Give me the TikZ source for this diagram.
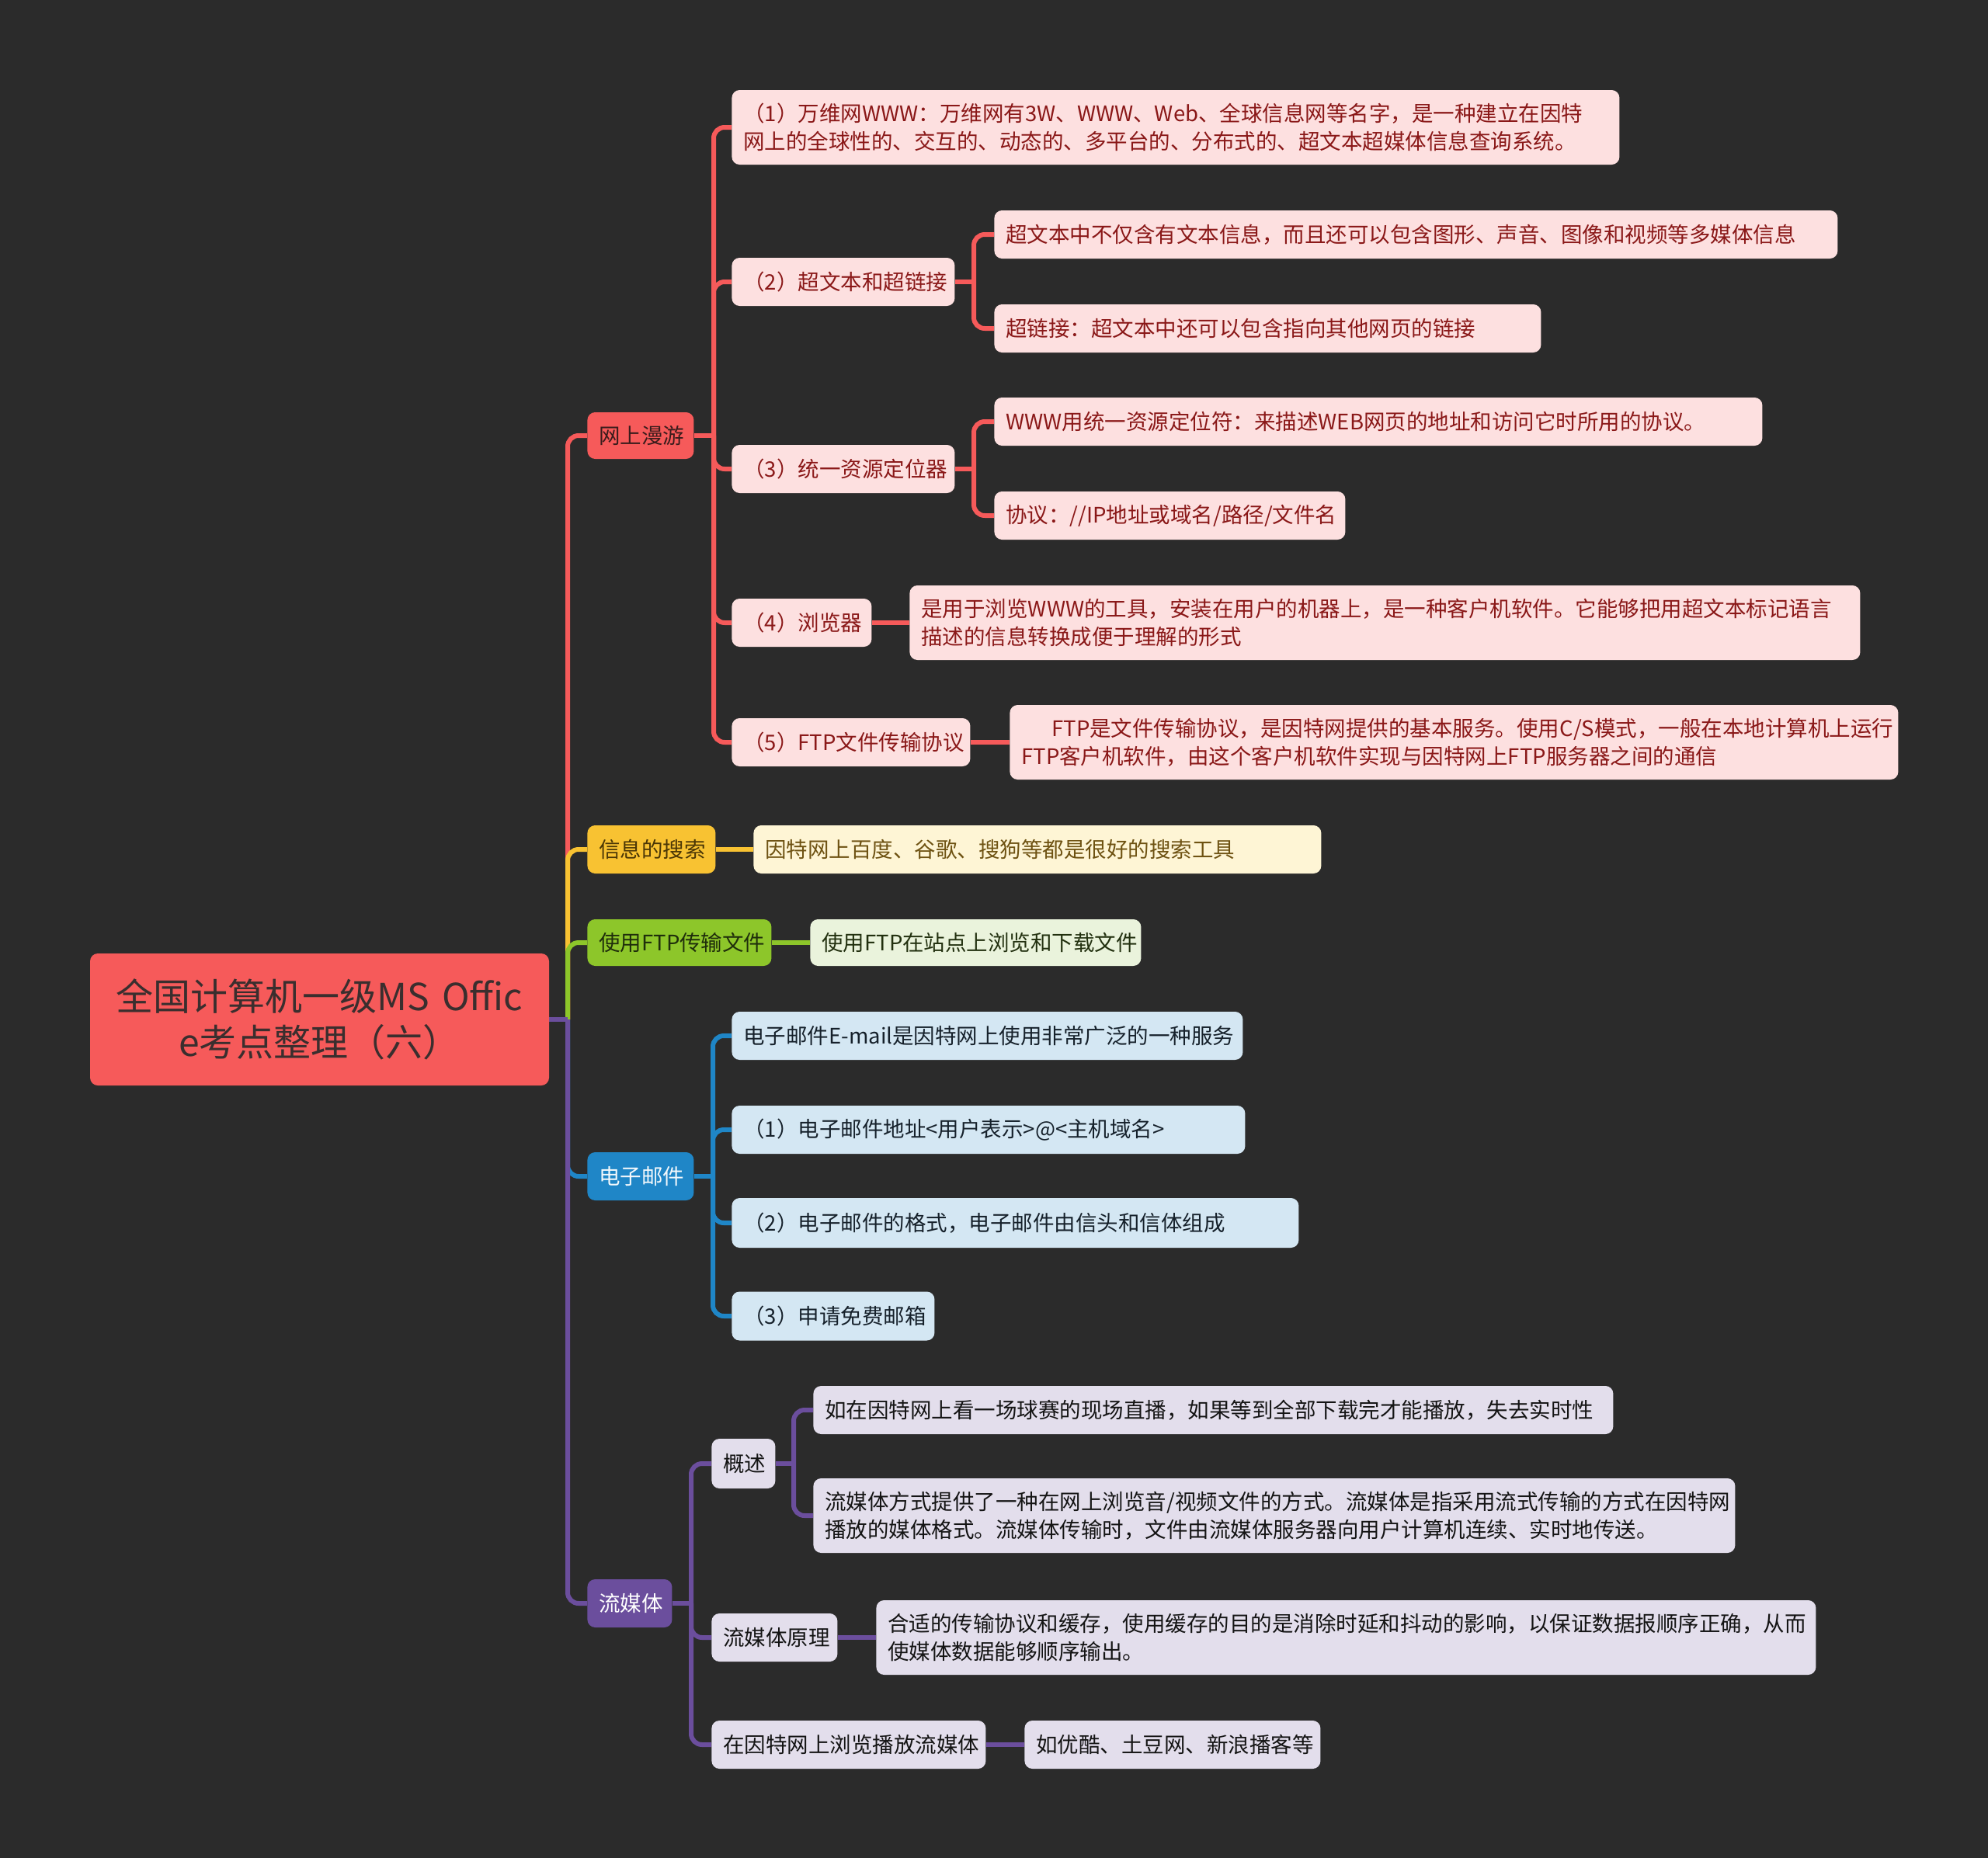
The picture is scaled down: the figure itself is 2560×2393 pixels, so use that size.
\documentclass[tikz,border=0pt]{standalone}
\usepackage{fontspec}
\setmainfont{Noto Sans CJK SC}
\definecolor{bg}{HTML}{2B2B2B}
\definecolor{cred}{HTML}{F65A5A}
\definecolor{credtxt}{HTML}{3A1C1C}
\definecolor{cpink}{HTML}{FDE0E0}
\definecolor{cpinktxt}{HTML}{8A1818}
\definecolor{cyel}{HTML}{F8C232}
\definecolor{cyeltxt}{HTML}{4A3606}
\definecolor{ccream}{HTML}{FEF5D5}
\definecolor{ccreamtxt}{HTML}{6E5212}
\definecolor{cgrn}{HTML}{8DC62A}
\definecolor{cgrntxt}{HTML}{1F2E0B}
\definecolor{clgrn}{HTML}{EAF3DC}
\definecolor{clgrntxt}{HTML}{22300F}
\definecolor{cblu}{HTML}{1F86C7}
\definecolor{cblutxt}{HTML}{F2F8FC}
\definecolor{clblu}{HTML}{D4E7F3}
\definecolor{clblutxt}{HTML}{16212B}
\definecolor{cpur}{HTML}{6B4E9D}
\definecolor{cpurtxt}{HTML}{FFFFFF}
\definecolor{clpur}{HTML}{E3DEEC}
\definecolor{clpurtxt}{HTML}{141414}
\definecolor{roottxt}{HTML}{3A2E2E}
\pgfdeclarelayer{bgl}
\pgfdeclarelayer{lines}
\pgfsetlayers{bgl,lines,main}
\tikzset{
  nbox/.style 2 args={anchor=west, rounded corners=5pt, inner xsep=7.5pt, inner ysep=0pt,
    text width={(#1-30)*0.5pt}, minimum height={#2*0.5pt}, align=left,
    font=\fontsize{13.75pt}{18pt}\selectfont},
  rootbox/.style={rounded corners=5pt, fill=cred, text=roottxt, inner sep=0pt,
    minimum width=295.5pt, minimum height=85pt, text width=290pt, align=center,
    font=\fontsize{24pt}{29.5pt}\selectfont},
  redA/.style={fill=cred, text=credtxt},
  redB/.style={fill=cpink, text=cpinktxt},
  yelA/.style={fill=cyel, text=cyeltxt},
  yelB/.style={fill=ccream, text=ccreamtxt},
  grnA/.style={fill=cgrn, text=cgrntxt},
  grnB/.style={fill=clgrn, text=clgrntxt},
  bluA/.style={fill=cblu, text=cblutxt},
  bluB/.style={fill=clblu, text=clblutxt},
  purA/.style={fill=cpur, text=cpurtxt},
  purB/.style={fill=clpur, text=clpurtxt},
  conn/.style={line width=3pt, rounded corners=7pt},
  lred/.style={conn, draw=cred},
  lyel/.style={conn, draw=cyel},
  lgrn/.style={conn, draw=cgrn},
  lblu/.style={conn, draw=cblu},
  lpur/.style={conn, draw=cpur},
}
\begin{document}
\begin{tikzpicture}[x=0.5pt,y=-0.5pt]
\begin{pgfonlayer}{bgl}
\fill[bg] (0,0) rectangle (2560,2393);
\end{pgfonlayer}
\useasboundingbox (0,0) rectangle (2560,2393);

% root
\node[rootbox] (root) at (411.5,1313) {全国计算机一级MS Offic\\e考点整理（六）};

% level 1
\node[nbox={137}{60}, redA] (n1) at (756,561) {网上漫游};
\node[nbox={165}{62}, yelA] (n2) at (756,1094) {信息的搜索};
\node[nbox={237}{60}, grnA] (n3) at (756,1214) {使用FTP传输文件};
\node[nbox={137}{62}, bluA] (n4) at (756,1515) {电子邮件};
\node[nbox={109}{62}, purA] (n5) at (756,2065) {流媒体};

% 网上漫游
\node[nbox={1143}{96}, redB] (a1) at (942,164) {（1）万维网WWW：万维网有3W、WWW、Web、全球信息网等名字，是一种建立在因特\\网上的全球性的、交互的、动态的、多平台的、分布式的、超文本超媒体信息查询系统。};
\node[nbox={287}{62}, redB] (a2) at (942,363) {（2）超文本和超链接};
\node[nbox={1086}{62}, redB] (a2a) at (1280,302) {超文本中不仅含有文本信息，而且还可以包含图形、声音、图像和视频等多媒体信息};
\node[nbox={704}{62}, redB] (a2b) at (1280,423) {超链接：超文本中还可以包含指向其他网页的链接};
\node[nbox={287}{62}, redB] (a3) at (942,604) {（3）统一资源定位器};
\node[nbox={989}{62}, redB] (a3a) at (1280,543) {WWW用统一资源定位符：来描述WEB网页的地址和访问它时所用的协议。};
\node[nbox={452}{62}, redB] (a3b) at (1280,664) {协议：//IP地址或域名/路径/文件名};
\node[nbox={180}{62}, redB] (a4) at (942,802) {（4）浏览器};
\node[nbox={1224}{96}, redB] (a4a) at (1171,802) {是用于浏览WWW的工具，安装在用户的机器上，是一种客户机软件。它能够把用超文本标记语言\\描述的信息转换成便于理解的形式};
\node[nbox={307}{62}, redB] (a5) at (942,956) {（5）FTP文件传输协议};
\node[nbox={1144}{96}, redB] (a5a) at (1300,956) {\hspace*{19.5pt}FTP是文件传输协议，是因特网提供的基本服务。使用C/S模式，一般在本地计算机上运行\\FTP客户机软件，由这个客户机软件实现与因特网上FTP服务器之间的通信};

% 信息的搜索 / FTP
\node[nbox={731}{62}, yelB] (s1) at (970,1094) {因特网上百度、谷歌、搜狗等都是很好的搜索工具};
\node[nbox={426}{60}, grnB] (f1) at (1043,1214) {使用FTP在站点上浏览和下载文件};

% 电子邮件
\node[nbox={658}{62}, bluB] (e1) at (942,1334) {电子邮件\mbox{E-mail}是因特网上使用非常广泛的一种服务};
\node[nbox={661}{62}, bluB] (e2) at (942,1455) {（1）电子邮件地址<用户表示>@<主机域名>};
\node[nbox={730}{64}, bluB] (e3) at (942,1575) {（2）电子邮件的格式，电子邮件由信头和信体组成};
\node[nbox={261}{63}, bluB] (e4) at (942,1695) {（3）申请免费邮箱};

% 流媒体
\node[nbox={82}{64}, purB] (b1) at (916,1885) {概述};
\node[nbox={1030}{62}, purB] (b1a) at (1047,1816) {如在因特网上看一场球赛的现场直播，如果等到全部下载完才能播放，失去实时性};
\node[nbox={1187}{96}, purB] (b1b) at (1047,1952) {流媒体方式提供了一种在网上浏览音/视频文件的方式。流媒体是指采用流式传输的方式在因特网\\播放的媒体格式。流媒体传输时，文件由流媒体服务器向用户计算机连续、实时地传送。};
\node[nbox={162}{62}, purB] (b2) at (916,2109) {流媒体原理};
\node[nbox={1210}{96}, purB] (b2a) at (1128,2109) {合适的传输协议和缓存，使用缓存的目的是消除时延和抖动的影响，以保证数据报顺序正确，从而\\使媒体数据能够顺序输出。};
\node[nbox={353}{62}, purB] (b3) at (916,2247) {在因特网上浏览播放流媒体};
\node[nbox={381}{62}, purB] (b3a) at (1319,2247) {如优酷、土豆网、新浪播客等};

% junctions
\coordinate (j0) at (731,1313);
\coordinate (j1) at (919,561);
\coordinate (j2) at (1254,363);
\coordinate (j3) at (1254,604);
\coordinate (j4) at (918,1515);
\coordinate (j5) at (890,2065);
\coordinate (j6) at (1022,1885);

\begin{pgfonlayer}{lines}
% level 1 connectors
\draw[lred] (j0) |- (n1.west);
\draw[lyel] (j0) |- (n2.west);
\draw[lgrn] (j0) |- (n3.west);
\draw[lblu] (j0) |- (n4.west);
\draw[lpur] (j0) |- (n5.west);
\draw[lpur, rounded corners=0pt] (root.east) -- (j0);

% 网上漫游
\draw[lred, rounded corners=0pt] (n1.east) -- (j1);
\foreach \t in {a1,a2,a3,a4,a5} { \draw[lred] (j1) |- (\t.west); }
\draw[lred, rounded corners=0pt] (a2.east) -- (j2);
\draw[lred] (j2) |- (a2a.west);
\draw[lred] (j2) |- (a2b.west);
\draw[lred, rounded corners=0pt] (a3.east) -- (j3);
\draw[lred] (j3) |- (a3a.west);
\draw[lred] (j3) |- (a3b.west);
\draw[lred] (a4.east) -- (a4a.west);
\draw[lred] (a5.east) -- (a5a.west);

\draw[lyel] (n2.east) -- (s1.west);
\draw[lgrn] (n3.east) -- (f1.west);

% 电子邮件
\draw[lblu, rounded corners=0pt] (n4.east) -- (j4);
\foreach \t in {e1,e2,e3,e4} { \draw[lblu] (j4) |- (\t.west); }

% 流媒体
\draw[lpur, rounded corners=0pt] (n5.east) -- (j5);
\foreach \t in {b1,b2,b3} { \draw[lpur] (j5) |- (\t.west); }
\draw[lpur, rounded corners=0pt] (b1.east) -- (j6);
\draw[lpur] (j6) |- (b1a.west);
\draw[lpur] (j6) |- (b1b.west);
\draw[lpur] (b2.east) -- (b2a.west);
\draw[lpur] (b3.east) -- (b3a.west);
\end{pgfonlayer}
\end{tikzpicture}
\end{document}
